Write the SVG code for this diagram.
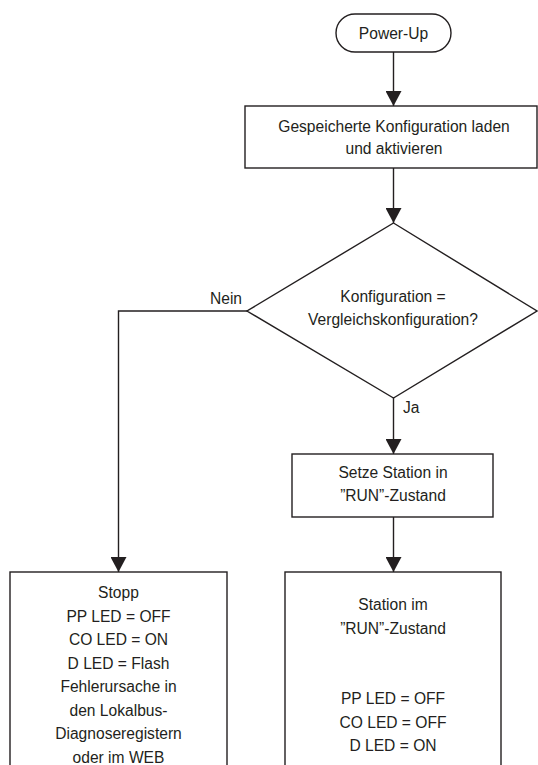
<svg xmlns="http://www.w3.org/2000/svg" width="538" height="765" viewBox="0 0 538 765">
<style>
.s{fill:#fff;stroke:#231f20;stroke-width:1.4}
.c{fill:none;stroke:#231f20;stroke-width:1.4}
text{font-family:"Liberation Sans",Arial,Helvetica,sans-serif;font-size:15.6px;fill:#231f20;text-anchor:middle}
.l{text-anchor:start}
</style>
<defs>
<marker id="a" markerWidth="15" markerHeight="16" refX="15" refY="8" orient="auto" markerUnits="userSpaceOnUse">
<path d="M0,0 L15,8 L0,16 Z" fill="#231f20"/>
</marker>
</defs>
<rect width="538" height="765" fill="#fff"/>
<g id="connectors">
<line class="c" x1="393.5" y1="52" x2="393.5" y2="106" marker-end="url(#a)"/>
<line class="c" x1="393.5" y1="168" x2="393.5" y2="223" marker-end="url(#a)"/>
<line class="c" x1="393.5" y1="398" x2="393.5" y2="454" marker-end="url(#a)"/>
<line class="c" x1="393.5" y1="517" x2="393.5" y2="572" marker-end="url(#a)"/>
<polyline class="c" points="247,311 118.5,311 118.5,572" marker-end="url(#a)"/>
<text x="226" y="304">Nein</text>
<text class="l" x="403" y="413">Ja</text>
</g>
<g id="powerup">
<rect class="s" x="336" y="14" width="115" height="38" rx="19"/>
<text x="393.5" y="38.5">Power-Up</text>
</g>
<g id="laden">
<rect class="s" x="245" y="106" width="292" height="62"/>
<text x="394" y="131.5">Gespeicherte Konfiguration laden</text>
<text x="394" y="154">und aktivieren</text>
</g>
<g id="decision">
<polygon class="s" points="393.5,223 537,311 393.5,398 247,311"/>
<text x="393" y="302">Konfiguration =</text>
<text x="393" y="325">Vergleichskonfiguration?</text>
</g>
<g id="setze">
<rect class="s" x="292" y="454" width="201" height="63"/>
<text x="393" y="478">Setze Station in</text>
<text x="393" y="501">”RUN”-Zustand</text>
</g>
<g id="stopp">
<rect class="s" x="10" y="572" width="217" height="200"/>
<text x="118.5" y="598">Stopp</text>
<text x="118.5" y="621.5">PP LED = OFF</text>
<text x="118.5" y="645">CO LED = ON</text>
<text x="118.5" y="668.5">D LED = Flash</text>
<text x="118.5" y="692">Fehlerursache in</text>
<text x="118.5" y="715.5">den Lokalbus-</text>
<text x="118.5" y="739">Diagnoseregistern</text>
<text x="118.5" y="762.5">oder im WEB</text>
</g>
<g id="run">
<rect class="s" x="285" y="572" width="216" height="200"/>
<text x="393" y="610">Station im</text>
<text x="393" y="633.5">”RUN”-Zustand</text>
<text x="393" y="704">PP LED = OFF</text>
<text x="393" y="727.5">CO LED = OFF</text>
<text x="393" y="751">D LED = ON</text>
</g>
</svg>
